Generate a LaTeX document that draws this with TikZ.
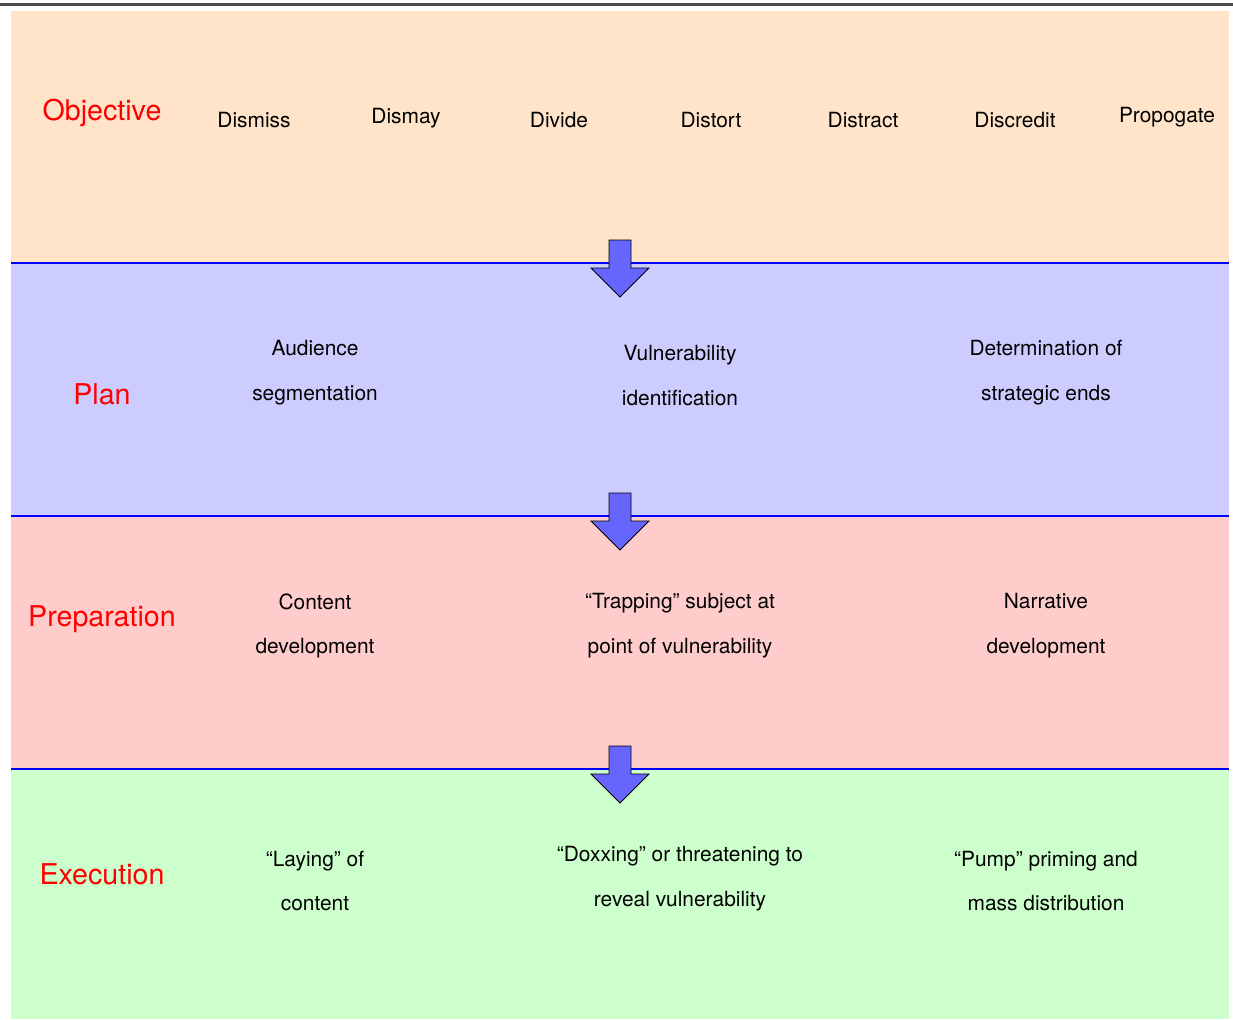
\documentclass[tikz,border=0pt]{standalone}
\usepackage{fontspec}
\setmainfont{TeX Gyre Heros}
\usepackage{tikz}
\usetikzlibrary{calc}
\definecolor{objcolor}{RGB}{255,228,202}
\definecolor{plancolor}{RGB}{204,204,255}
\definecolor{prepcolor}{RGB}{255,204,204}
\definecolor{execcolor}{RGB}{204,255,204}
\definecolor{arrowcolor}{RGB}{102,102,255}
\tikzset{
  stagelabel/.style={text=red, font=\fontsize{16.3}{20}\selectfont},
  itemtext/.style={text=black, align=center, font=\fontsize{11.9}{25.5}\selectfont},
  stageline/.style={draw=blue, line width=1.2pt},
  arrowbody/.style={draw=black, fill=arrowcolor, line width=0.5pt}
}
\newcommand{\stageband}[3]{ \fill[#3] ( 11 , #1 ) rectangle ( 1229 , #2 );}
\newcommand{\stagearrow}[2]{ \draw[arrowbody] ( #1 - 11 , #2 ) -- ( #1 + 11 , #2 ) -- ( #1 + 11 , #2 + 28 ) -- ( #1 + 29 , #2 + 28 ) -- ( #1 , #2 + 57 ) -- ( #1 - 29 , #2 + 28 ) -- ( #1 - 11 , #2 + 28 ) -- cycle;}
\begin{document}
\begin{tikzpicture}[x=0.02cm, y=-0.02cm]
    \useasboundingbox (0,0) rectangle (1233,1019);
    \draw[gray!60!black, line width=1.2pt] (0,4.5) -- (1233,4.5);
    %
    \stageband{11}{263}{objcolor}
    \stageband{263}{516}{plancolor}
    \stageband{516}{769}{prepcolor}
    \stageband{769}{1019}{execcolor}
    %
    \draw[stageline] (11,263) -- (1229,263);
    \draw[stageline] (11,516) -- (1229,516);
    \draw[stageline] (11,769) -- (1229,769);
    %
    \stagearrow{620}{240}
    \stagearrow{620}{493}
    \stagearrow{620}{746}
    %
    \node[stagelabel] (objective) at (102,113) {Objective};
    \node[itemtext] (dismiss) at (254,120) {Dismiss};
    \node[itemtext] (dismay) at (406,118.5) {Dismay};
    \node[itemtext] (divide) at (559,120) {Divide};
    \node[itemtext] (distort) at (711,120) {Distort};
    \node[itemtext] (distract) at (863,120) {Distract};
    \node[itemtext] (discredit) at (1015,120) {Discredit};
    \node[itemtext] (propogate) at (1167,117.5) {Propogate};
    %
    \node[stagelabel] (plan) at (102,394) {Plan};
    \node[itemtext] (audience) at (315,372.5) {Audience\\segmentation};
    \node[itemtext] (vulnerability) at (680,375.5) {Vulnerability\\identification};
    \node[itemtext] (ends) at (1046,372.5) {Determination of\\strategic ends};
    %
    \node[stagelabel] (preparation) at (102,619) {Preparation};
    \node[itemtext] (content) at (315,626) {Content\\development};
    \node[itemtext] (trapping) at (680,626) {“Trapping” subject at\\point of vulnerability};
    \node[itemtext] (narrative) at (1046,626) {Narrative\\development};
    %
    \node[stagelabel] (execution) at (102,874) {Execution};
    \node[itemtext] (laying) at (315,881) {“Laying” of\\content};
    \node[itemtext] (doxxing) at (680,878.5) {“Doxxing” or threatening to\\reveal vulnerability};
    \node[itemtext] (pump) at (1046,881) {“Pump” priming and\\mass distribution};
\end{tikzpicture}
\end{document}
